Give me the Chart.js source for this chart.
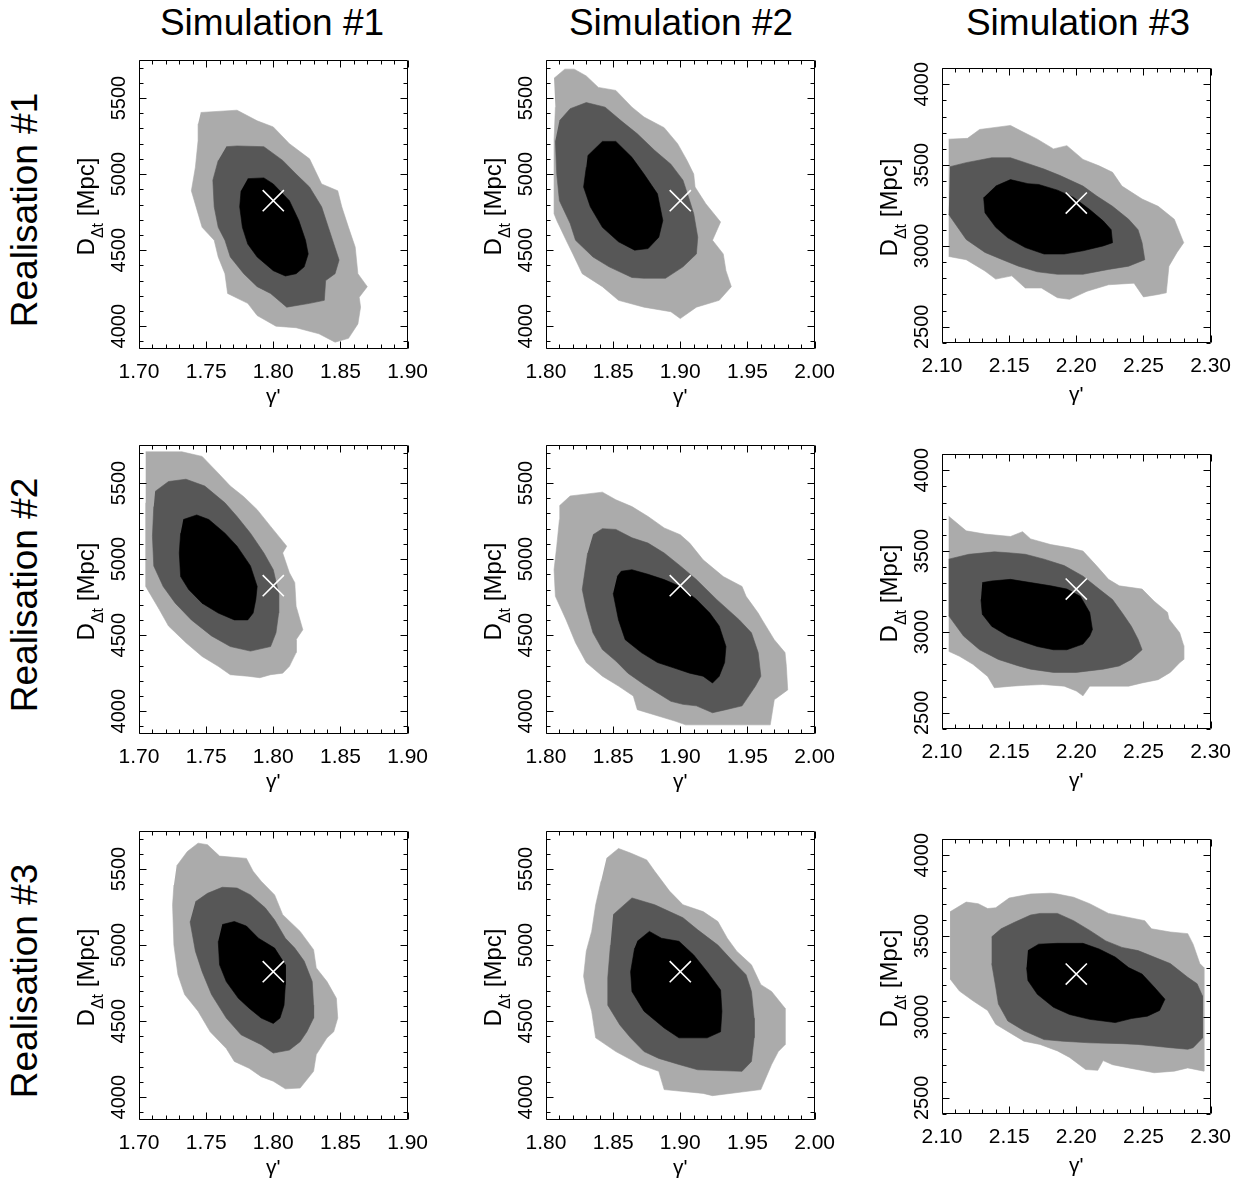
<!DOCTYPE html>
<html>
<head>
<meta charset="utf-8">
<script src="https://cdn.jsdelivr.net/npm/chart.js@4/dist/chart.umd.min.js"></script>
<style>
  html, body { margin: 0; padding: 0; background: #fff; }
  body { width: 1242px; height: 1193px; position: relative; overflow: hidden;
         font-family: "Liberation Sans", Arial, Helvetica, sans-serif; color: #000; }
  .coltitle { position: absolute; top: 3px; width: 360px; text-align: center;
              font-size: 37px; line-height: 40px; white-space: nowrap; }
  .rowtitle { position: absolute; width: 320px; height: 40px; text-align: center;
              font-size: 37px; line-height: 40px; white-space: nowrap; transform: rotate(-90deg); }
  .panel { position: absolute; }
  .panel canvas { display: block; }
</style>
</head>
<body>
<script>
// ---------------- labels ----------------
const simulations = ['Simulation #1', 'Simulation #2', 'Simulation #3'];
const realisations = ['Realisation #1', 'Realisation #2', 'Realisation #3'];
const xTitle = "γ'";
const yTitleMain = 'D';
const yTitleSub = 'Δt';
const yTitleUnit = ' [Mpc]';

// ---------------- axes ----------------
const xTicksSim1 = [1.70, 1.75, 1.80, 1.85, 1.90];
const xTicksSim2 = [1.80, 1.85, 1.90, 1.95, 2.00];
const xTicksSim3 = [2.10, 2.15, 2.20, 2.25, 2.30];
const yTicksSim12 = [4000, 4500, 5000, 5500];
const yTicksSim3 = [2500, 3000, 3500, 4000];
const xRangeSim1 = [1.70, 1.90];
const xRangeSim2 = [1.80, 2.00];
const xRangeSim3 = [2.10, 2.30];
const yRangeSim12 = [3850, 5750];
const yRangeSim3 = [2400, 4100];

// ---------------- true input values (white cross) ----------------
const truthSim1 = [1.80, 4825];
const truthSim2 = [1.90, 4825];
const truthSim3 = [2.20, 3265];

// ---------------- contours [gamma', D_dt] ----------------
// Realisation 1
const r1s1Outer = [[1.746,5405],[1.773,5420],[1.788,5350],[1.800,5310],[1.812,5200],[1.827,5100],[1.836,4935],[1.848,4890],[1.851,4785],[1.856,4650],[1.861,4520],[1.863,4345],[1.870,4260],[1.864,4190],[1.865,4125],[1.863,4015],[1.856,3920],[1.846,3895],[1.834,3950],[1.817,3990],[1.802,4000],[1.788,4070],[1.781,4150],[1.766,4215],[1.764,4345],[1.759,4455],[1.756,4565],[1.747,4650],[1.744,4740],[1.739,4890],[1.742,5045],[1.744,5220],[1.744,5330]];
const r1s1Mid = [[1.765,5180],[1.773,5185],[1.793,5180],[1.807,5090],[1.817,5000],[1.827,4915],[1.836,4785],[1.841,4650],[1.849,4435],[1.846,4345],[1.839,4300],[1.838,4170],[1.827,4150],[1.810,4125],[1.798,4215],[1.788,4260],[1.778,4345],[1.768,4455],[1.764,4565],[1.759,4650],[1.756,4785],[1.755,4960],[1.759,5090]];
const r1s1Inner = [[1.781,4970],[1.793,4975],[1.800,4935],[1.812,4825],[1.819,4695],[1.824,4565],[1.826,4475],[1.823,4390],[1.817,4345],[1.809,4330],[1.800,4365],[1.788,4455],[1.781,4540],[1.777,4650],[1.775,4785],[1.776,4890]];

const r1s2Outer = [[1.806,5630],[1.814,5690],[1.821,5690],[1.830,5645],[1.839,5570],[1.852,5550],[1.864,5440],[1.873,5375],[1.888,5305],[1.898,5200],[1.905,5090],[1.910,5000],[1.911,4915],[1.919,4805],[1.930,4685],[1.924,4565],[1.932,4475],[1.934,4365],[1.938,4260],[1.929,4170],[1.912,4125],[1.900,4050],[1.893,4095],[1.873,4125],[1.854,4170],[1.842,4260],[1.827,4345],[1.820,4475],[1.815,4565],[1.808,4695],[1.806,4740],[1.806,5220],[1.807,5440]];
const r1s2Mid = [[1.810,5350],[1.818,5430],[1.830,5470],[1.844,5440],[1.856,5350],[1.868,5265],[1.881,5155],[1.893,5065],[1.902,4960],[1.907,4825],[1.910,4740],[1.913,4585],[1.912,4475],[1.902,4390],[1.889,4315],[1.873,4315],[1.864,4320],[1.847,4390],[1.835,4455],[1.822,4565],[1.818,4675],[1.810,4825],[1.808,5000],[1.807,5220]];
const r1s2Inner = [[1.831,5120],[1.842,5215],[1.852,5215],[1.864,5110],[1.873,5000],[1.883,4870],[1.887,4695],[1.884,4585],[1.876,4510],[1.866,4500],[1.854,4555],[1.842,4650],[1.833,4785],[1.828,4915],[1.830,5045]];

const r1s3Outer = [[2.105,3660],[2.119,3665],[2.128,3720],[2.151,3745],[2.159,3710],[2.171,3660],[2.183,3600],[2.193,3620],[2.205,3535],[2.217,3495],[2.227,3455],[2.234,3370],[2.249,3290],[2.261,3245],[2.273,3165],[2.280,3020],[2.275,2960],[2.269,2875],[2.267,2710],[2.261,2700],[2.250,2685],[2.243,2770],[2.224,2760],[2.208,2720],[2.195,2670],[2.186,2680],[2.174,2740],[2.162,2740],[2.152,2815],[2.140,2795],[2.132,2845],[2.118,2915],[2.105,2935]];
const r1s3Mid = [[2.106,3490],[2.118,3515],[2.137,3545],[2.151,3545],[2.162,3515],[2.176,3475],[2.188,3435],[2.205,3370],[2.215,3310],[2.227,3245],[2.239,3165],[2.246,3100],[2.249,3020],[2.251,2915],[2.239,2875],[2.224,2855],[2.205,2825],[2.186,2825],[2.171,2840],[2.157,2875],[2.145,2915],[2.132,2960],[2.118,3040],[2.105,3195]];
const r1s3Inner = [[2.140,3370],[2.151,3410],[2.164,3385],[2.172,3380],[2.186,3345],[2.198,3300],[2.210,3225],[2.220,3155],[2.226,3100],[2.227,3020],[2.220,3000],[2.205,2970],[2.191,2950],[2.176,2950],[2.162,2990],[2.149,3050],[2.140,3115],[2.132,3205],[2.131,3300]];

// Realisation 2
const r2s1Outer = [[1.705,5705],[1.732,5705],[1.747,5675],[1.759,5565],[1.768,5480],[1.778,5410],[1.788,5325],[1.798,5215],[1.810,5085],[1.807,5040],[1.812,4910],[1.816,4845],[1.817,4690],[1.822,4535],[1.817,4470],[1.817,4385],[1.812,4295],[1.807,4250],[1.798,4240],[1.790,4220],[1.781,4230],[1.768,4240],[1.759,4295],[1.747,4360],[1.735,4450],[1.722,4560],[1.715,4670],[1.705,4820],[1.705,5040],[1.705,5370]];
const r2s1Mid = [[1.712,5445],[1.722,5510],[1.735,5525],[1.749,5480],[1.764,5370],[1.773,5280],[1.783,5170],[1.793,5040],[1.800,4930],[1.804,4775],[1.804,4645],[1.802,4515],[1.798,4425],[1.783,4395],[1.768,4425],[1.754,4495],[1.739,4600],[1.727,4710],[1.718,4820],[1.711,4955],[1.710,5150],[1.711,5345]];
const r2s1Inner = [[1.733,5260],[1.743,5290],[1.752,5260],[1.764,5170],[1.773,5085],[1.783,4955],[1.788,4820],[1.787,4735],[1.785,4645],[1.781,4600],[1.771,4600],[1.759,4645],[1.747,4710],[1.737,4800],[1.731,4885],[1.730,5040],[1.731,5170]];

const r2s2Outer = [[1.810,5350],[1.818,5415],[1.842,5440],[1.852,5390],[1.864,5345],[1.876,5280],[1.888,5205],[1.900,5160],[1.907,5105],[1.917,4995],[1.932,4885],[1.946,4820],[1.949,4755],[1.958,4645],[1.961,4600],[1.970,4470],[1.978,4385],[1.979,4295],[1.980,4140],[1.970,4075],[1.967,3910],[1.904,3910],[1.896,3935],[1.868,4010],[1.865,4100],[1.854,4165],[1.842,4230],[1.830,4320],[1.822,4450],[1.815,4600],[1.807,4755],[1.806,4930],[1.808,5085],[1.810,5260]];
const r2s2Mid = [[1.835,5160],[1.842,5200],[1.852,5195],[1.864,5140],[1.876,5105],[1.888,5040],[1.900,4955],[1.912,4865],[1.927,4735],[1.944,4600],[1.953,4515],[1.958,4385],[1.960,4230],[1.956,4165],[1.946,4035],[1.934,4010],[1.924,3990],[1.912,4035],[1.902,4045],[1.893,4065],[1.883,4120],[1.873,4175],[1.861,4250],[1.852,4330],[1.842,4405],[1.835,4515],[1.830,4670],[1.827,4800],[1.831,5040]];
const r2s2Inner = [[1.853,4885],[1.856,4920],[1.864,4930],[1.876,4900],[1.888,4865],[1.900,4820],[1.912,4735],[1.922,4645],[1.929,4560],[1.934,4425],[1.933,4320],[1.929,4230],[1.924,4185],[1.917,4230],[1.907,4250],[1.895,4285],[1.883,4320],[1.871,4385],[1.859,4470],[1.854,4600],[1.850,4775]];

const r2s3Outer = [[2.105,3715],[2.118,3625],[2.132,3605],[2.151,3590],[2.160,3620],[2.166,3575],[2.181,3540],[2.195,3520],[2.205,3500],[2.215,3410],[2.224,3325],[2.232,3285],[2.249,3265],[2.258,3190],[2.268,3120],[2.269,3080],[2.277,2995],[2.280,2915],[2.280,2830],[2.277,2810],[2.270,2750],[2.261,2705],[2.249,2685],[2.239,2665],[2.229,2665],[2.210,2665],[2.205,2605],[2.200,2635],[2.191,2665],[2.175,2675],[2.162,2670],[2.152,2665],[2.139,2655],[2.134,2725],[2.123,2800],[2.113,2850],[2.105,2880]];
const r2s3Mid = [[2.105,3450],[2.120,3480],[2.139,3495],[2.149,3490],[2.162,3480],[2.176,3450],[2.191,3410],[2.205,3345],[2.217,3265],[2.227,3200],[2.234,3120],[2.241,3035],[2.246,2955],[2.249,2890],[2.241,2830],[2.232,2790],[2.220,2770],[2.200,2750],[2.183,2750],[2.166,2770],[2.157,2790],[2.142,2830],[2.128,2890],[2.116,2975],[2.105,3100]];
const r2s3Inner = [[2.130,3305],[2.137,3315],[2.151,3325],[2.166,3305],[2.181,3285],[2.193,3265],[2.203,3220],[2.210,3120],[2.212,3015],[2.210,2975],[2.205,2925],[2.193,2890],[2.183,2890],[2.171,2910],[2.162,2935],[2.149,2975],[2.137,3035],[2.130,3110],[2.129,3200]];

// Realisation 3
const r3s1Outer = [[1.728,5520],[1.736,5615],[1.744,5670],[1.751,5660],[1.760,5585],[1.780,5570],[1.785,5485],[1.791,5420],[1.801,5330],[1.807,5200],[1.820,5090],[1.830,4970],[1.832,4850],[1.840,4760],[1.847,4650],[1.848,4520],[1.845,4430],[1.840,4390],[1.832,4280],[1.830,4170],[1.820,4060],[1.809,4055],[1.800,4105],[1.791,4135],[1.782,4190],[1.771,4235],[1.765,4320],[1.753,4430],[1.744,4565],[1.734,4675],[1.729,4805],[1.726,5000],[1.725,5265],[1.726,5395]];
const r3s1Mid = [[1.742,5285],[1.751,5340],[1.762,5380],[1.773,5375],[1.783,5330],[1.794,5245],[1.801,5165],[1.809,5045],[1.816,4980],[1.823,4895],[1.829,4760],[1.830,4605],[1.830,4520],[1.825,4430],[1.820,4365],[1.812,4310],[1.800,4290],[1.791,4345],[1.776,4410],[1.765,4520],[1.754,4675],[1.747,4825],[1.742,4960],[1.738,5155]];
const r3s1Inner = [[1.762,5135],[1.771,5155],[1.780,5125],[1.789,5045],[1.801,4980],[1.809,4870],[1.809,4740],[1.808,4605],[1.805,4520],[1.800,4485],[1.791,4520],[1.782,4585],[1.774,4650],[1.765,4760],[1.760,4870],[1.759,5025]];

const r3s2Outer = [[1.845,5570],[1.854,5635],[1.863,5605],[1.875,5560],[1.881,5485],[1.892,5355],[1.902,5265],[1.917,5220],[1.928,5155],[1.935,5045],[1.942,4960],[1.953,4870],[1.960,4740],[1.968,4695],[1.978,4585],[1.978,4345],[1.973,4300],[1.968,4215],[1.960,4050],[1.924,4010],[1.917,4025],[1.888,4050],[1.884,4170],[1.870,4215],[1.852,4300],[1.837,4390],[1.834,4565],[1.830,4695],[1.828,4795],[1.830,4960],[1.834,5090],[1.837,5265],[1.841,5420]];
const r3s2Mid = [[1.850,5200],[1.864,5310],[1.881,5265],[1.892,5220],[1.902,5180],[1.913,5100],[1.928,5000],[1.939,4895],[1.949,4805],[1.953,4695],[1.955,4520],[1.955,4390],[1.953,4235],[1.946,4170],[1.913,4180],[1.899,4215],[1.884,4255],[1.873,4300],[1.863,4390],[1.855,4475],[1.846,4605],[1.846,4785],[1.848,5000]];
const r3s2Inner = [[1.868,5025],[1.877,5090],[1.886,5045],[1.899,5025],[1.910,4935],[1.920,4825],[1.930,4705],[1.931,4565],[1.930,4430],[1.920,4390],[1.910,4390],[1.899,4390],[1.888,4455],[1.873,4565],[1.864,4695],[1.863,4825],[1.866,4980]];

const r3s3Outer = [[2.106,3650],[2.118,3710],[2.127,3700],[2.134,3670],[2.140,3675],[2.150,3735],[2.166,3760],[2.181,3765],[2.186,3760],[2.198,3740],[2.210,3700],[2.224,3640],[2.239,3615],[2.251,3595],[2.256,3545],[2.270,3525],[2.283,3515],[2.287,3450],[2.292,3330],[2.295,3305],[2.295,2665],[2.283,2685],[2.273,2665],[2.258,2655],[2.239,2685],[2.227,2705],[2.220,2730],[2.216,2670],[2.207,2675],[2.195,2750],[2.186,2790],[2.173,2830],[2.161,2850],[2.152,2895],[2.140,2955],[2.134,3040],[2.123,3100],[2.113,3160],[2.106,3235]];
const r3s3Mid = [[2.137,3495],[2.144,3545],[2.154,3585],[2.166,3630],[2.173,3640],[2.186,3640],[2.198,3595],[2.210,3535],[2.222,3470],[2.234,3430],[2.246,3410],[2.258,3370],[2.270,3330],[2.283,3245],[2.290,3205],[2.294,3130],[2.294,2870],[2.287,2810],[2.283,2800],[2.270,2810],[2.258,2820],[2.246,2830],[2.234,2835],[2.210,2840],[2.190,2850],[2.176,2860],[2.161,2915],[2.149,2975],[2.142,3080],[2.140,3185],[2.137,3330]];
const r3s3Inner = [[2.164,3410],[2.172,3450],[2.186,3455],[2.205,3455],[2.217,3420],[2.229,3370],[2.239,3305],[2.249,3265],[2.258,3185],[2.266,3110],[2.262,3040],[2.253,3005],[2.241,2990],[2.229,2965],[2.220,2975],[2.210,2985],[2.195,3015],[2.183,3060],[2.171,3140],[2.164,3225],[2.163,3305]];

// ---------------- assembly ----------------
const FONT = '"Liberation Sans", Arial, Helvetica, sans-serif';
Chart.defaults.font.family = FONT;
Chart.defaults.color = '#000';

const COLORS = { inner: '#000000', mid: '#575757', outer: '#ababab', cross: '#ffffff' };

const contours = [
  [[r1s1Inner, r1s1Mid, r1s1Outer], [r1s2Inner, r1s2Mid, r1s2Outer], [r1s3Inner, r1s3Mid, r1s3Outer]],
  [[r2s1Inner, r2s1Mid, r2s1Outer], [r2s2Inner, r2s2Mid, r2s2Outer], [r2s3Inner, r2s3Mid, r2s3Outer]],
  [[r3s1Inner, r3s1Mid, r3s1Outer], [r3s2Inner, r3s2Mid, r3s2Outer], [r3s3Inner, r3s3Mid, r3s3Outer]]
];
const simAxes = [
  { xr: xRangeSim1, yr: yRangeSim12, xt: xTicksSim1, yt: yTicksSim12, truth: truthSim1 },
  { xr: xRangeSim2, yr: yRangeSim12, xt: xTicksSim2, yt: yTicksSim12, truth: truthSim2 },
  { xr: xRangeSim3, yr: yRangeSim3,  xt: xTicksSim3, yt: yTicksSim3,  truth: truthSim3 }
];

// layout (pixels)
const colLeft = [139, 546, 942];
const plotW = 275;
const rowTop12 = [60, 445, 831];
const rowTop3 = [68, 454, 839];
const plotH12 = 289, plotH3 = 275;
const AX_W = 75, AX_H = 75, PAD_T = 25, PAD_R = 25;

const boxTicks = {
  id: 'boxTicks',
  afterDraw(chart, args, o) {
    const { ctx, chartArea: a } = chart;
    const xs = chart.scales.x, ys = chart.scales.y;
    ctx.save();
    ctx.strokeStyle = '#000';
    ctx.lineWidth = 1;
    const L = Math.round(a.left) + 0.5, R = Math.round(a.right) - 0.5;
    const T = Math.round(a.top) + 0.5, B = Math.round(a.bottom) - 0.5;
    ctx.beginPath();
    ctx.rect(L, T, R - L, B - T);
    const nx = Math.round((xs.max - xs.min) / o.xMinor);
    for (let i = 0; i <= nx; i++) {
      const p = Math.round(xs.getPixelForValue(xs.min + i * o.xMinor)) + 0.5;
      const len = (i % o.xPerMajor === 0) ? o.major : o.minor;
      ctx.moveTo(p, B); ctx.lineTo(p, B - len);
      ctx.moveTo(p, T); ctx.lineTo(p, T + len);
    }
    for (let v = Math.ceil(ys.min / o.yMinor) * o.yMinor; v <= ys.max; v += o.yMinor) {
      const p = Math.round(ys.getPixelForValue(v)) + 0.5;
      const len = (v % o.yMajor === 0) ? o.major : o.minor;
      ctx.moveTo(L, p); ctx.lineTo(L + len, p);
      ctx.moveTo(R, p); ctx.lineTo(R - len, p);
    }
    ctx.stroke();

    // y axis title with subscript
    const cy = (a.top + a.bottom) / 2 + o.titleShift;
    ctx.translate(a.left - o.yTitleGap, cy);
    ctx.rotate(-Math.PI / 2);
    ctx.fillStyle = '#000';
    ctx.textAlign = 'left';
    ctx.textBaseline = 'alphabetic';
    const fMain = o.titleSize + 'px ' + FONT, fSub = o.subSize + 'px ' + FONT;
    ctx.font = fMain;
    const w1 = ctx.measureText(yTitleMain).width, w3 = ctx.measureText(yTitleUnit).width;
    ctx.font = fSub;
    const w2 = ctx.measureText(yTitleSub).width;
    let x0 = -(w1 + w2 + w3) / 2;
    ctx.font = fMain; ctx.fillText(yTitleMain, x0, 0); x0 += w1;
    ctx.font = fSub;  ctx.fillText(yTitleSub, x0, o.subDrop); x0 += w2;
    ctx.font = fMain; ctx.fillText(yTitleUnit, x0, 0);
    ctx.restore();
  }
};

const toXY = arr => arr.map(p => ({ x: p[0], y: p[1] }));

function makePanel(row, col) {
  const ax = simAxes[col];
  const isS3 = col === 2;
  const top = isS3 ? rowTop3[row] : rowTop12[row];
  const h = isS3 ? plotH3 : plotH12;
  const div = document.createElement('div');
  div.className = 'panel';
  div.style.left = (colLeft[col] - AX_W) + 'px';
  div.style.top = (top - PAD_T) + 'px';
  const cv = document.createElement('canvas');
  cv.width = AX_W + plotW + PAD_R;
  cv.height = PAD_T + h + AX_H;
  cv.style.width = cv.width + 'px';
  cv.style.height = cv.height + 'px';
  div.appendChild(cv);
  document.body.appendChild(div);

  const [inner, mid, outer] = contours[row][col];
  const poly = (label, data, color) => ({
    label, data: toXY(data), fill: 'shape', backgroundColor: color, borderColor: color,
    borderWidth: 0.6, pointRadius: 0, pointHoverRadius: 0, tension: 0
  });

  new Chart(cv, {
    type: 'line',
    data: {
      datasets: [
        { label: 'Input', data: toXY([ax.truth]), showLine: false, pointStyle: 'crossRot',
          pointRadius: 15, pointHoverRadius: 15, pointBorderColor: COLORS.cross,
          pointBackgroundColor: COLORS.cross, pointBorderWidth: 1.6, borderColor: COLORS.cross },
        poly('68%', inner, COLORS.inner),
        poly('95%', mid, COLORS.mid),
        poly('99%', outer, COLORS.outer)
      ]
    },
    options: {
      responsive: false, animation: false, devicePixelRatio: 1, events: [],
      layout: { padding: { top: PAD_T, right: PAD_R, left: 0, bottom: 0 } },
      plugins: {
        legend: { display: false }, tooltip: { enabled: false },
        boxTicks: { xMinor: 0.01, xPerMajor: 5, yMinor: 100, yMajor: 500, major: 7, minor: 4,
                    yTitleGap: 45, titleSize: 24, subSize: 16, subDrop: 9, titleShift: 2 }
      },
      scales: {
        x: {
          type: 'linear', position: 'bottom', min: ax.xr[0], max: ax.xr[1],
          afterBuildTicks: s => { s.ticks = ax.xt.map(v => ({ value: v })); },
          afterFit: s => { s.height = AX_H; },
          grid: { display: false, drawTicks: false }, border: { display: false },
          ticks: { autoSkip: false, minRotation: 0, maxRotation: 0, padding: 11, color: '#000',
                   font: { size: 21 }, callback: v => Number(v).toFixed(2) },
          title: { display: true, text: xTitle, color: '#000', font: { size: 21 },
                   padding: { top: 0, bottom: isS3 ? 10 : 14 } }
        },
        y: {
          type: 'linear', position: 'left', min: ax.yr[0], max: ax.yr[1],
          afterBuildTicks: s => { s.ticks = ax.yt.map(v => ({ value: v })); },
          afterFit: s => { s.width = AX_W; },
          grid: { display: false, drawTicks: false }, border: { display: false },
          ticks: { autoSkip: false, minRotation: 90, maxRotation: 90, crossAlign: 'center',
                   padding: -3, color: '#000', font: { size: 20 }, callback: v => String(v) }
        }
      }
    },
    plugins: [boxTicks]
  });
}

// titles
const colTitleCenter = [272, 681, 1078];
simulations.forEach((t, i) => {
  const d = document.createElement('div');
  d.className = 'coltitle';
  d.textContent = t;
  d.style.left = (colTitleCenter[i] - 180) + 'px';
  document.body.appendChild(d);
});
realisations.forEach((t, r) => {
  const d = document.createElement('div');
  d.className = 'rowtitle';
  d.textContent = t;
  const cy = rowTop12[r] + plotH12 / 2 + 5;
  const cx = 25;
  d.style.left = (cx - 160) + 'px';
  d.style.top = (cy - 20) + 'px';
  document.body.appendChild(d);
});

for (let r = 0; r < 3; r++) for (let c = 0; c < 3; c++) makePanel(r, c);
</script>
</body>
</html>
